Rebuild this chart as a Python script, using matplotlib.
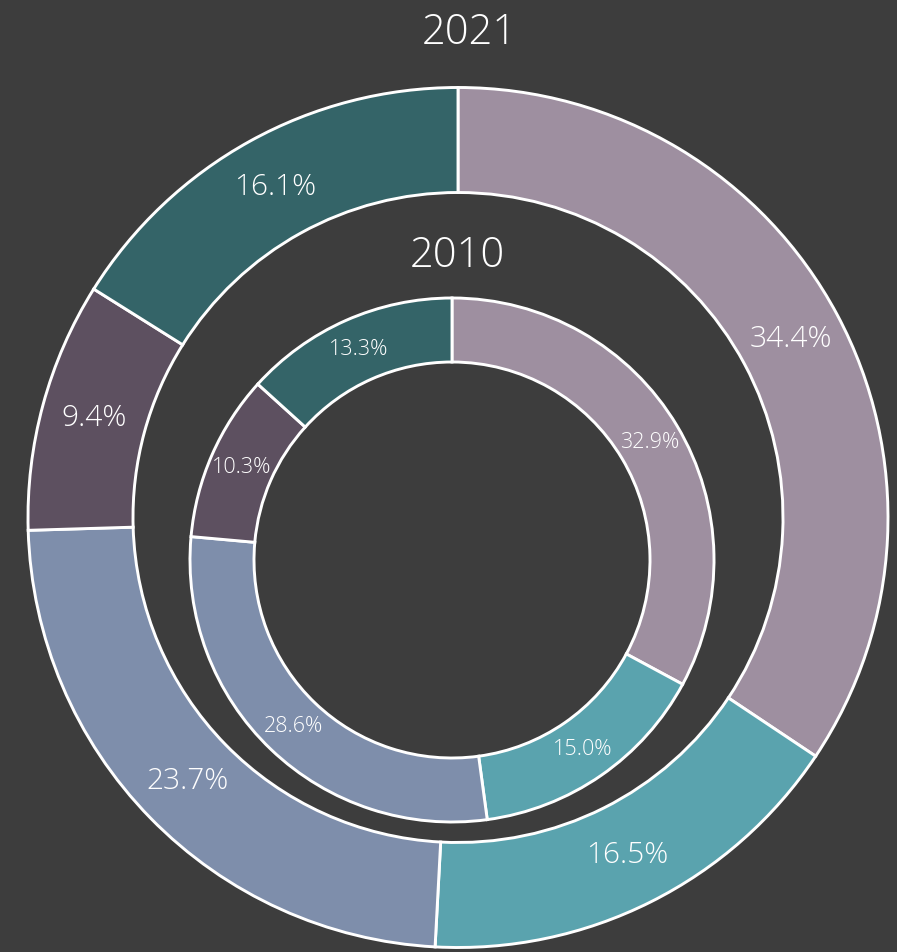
import matplotlib.pyplot as plt

# shares per category, clockwise from 12 o'clock
shares_2021 = [34.4, 16.5, 23.7, 9.4, 16.1]
shares_2010 = [32.9, 15.0, 28.6, 10.3, 13.3]
slice_colors = ['#9e8fa0', '#5aa3ae', '#7e8eab', '#5d5060', '#346468']

bg = '#3d3d3d'
W, H = 897, 952

plt.rcParams['font.family'] = ['Open Sans', 'DejaVu Sans']

fig = plt.figure(figsize=(W / 100, H / 100), dpi=100, facecolor=bg)
ax = fig.add_axes([0, 0, 1, 1])
ax.set_facecolor(bg)


def donut(values, center, r_out, r_in, fsize):
    ax.pie(values, colors=slice_colors, startangle=90, counterclock=False,
           center=center, radius=r_out, frame=True,
           autopct='%.1f%%', pctdistance=(r_out + r_in) / 2 / r_out,
           wedgeprops=dict(width=r_out - r_in, edgecolor='white', linewidth=2.1),
           textprops=dict(color='white', fontsize=fsize, fontweight='light'))


# outer ring (2021) and inner ring (2010) are separate, offset donuts
donut(shares_2021, (458, H - 517.5), 430, 325, 21.5)
donut(shares_2010, (452, H - 560), 262, 198, 15.5)

ax.set_xlim(0, W)
ax.set_ylim(0, H)
ax.set_aspect('equal')
ax.axis('off')

ax.text(469, H - 33, '2021', color='white', fontsize=30, fontweight='light',
        ha='center', va='center')
ax.text(457, H - 256, '2010', color='white', fontsize=30, fontweight='light',
        ha='center', va='center')

fig.savefig('out.png', facecolor=bg)
